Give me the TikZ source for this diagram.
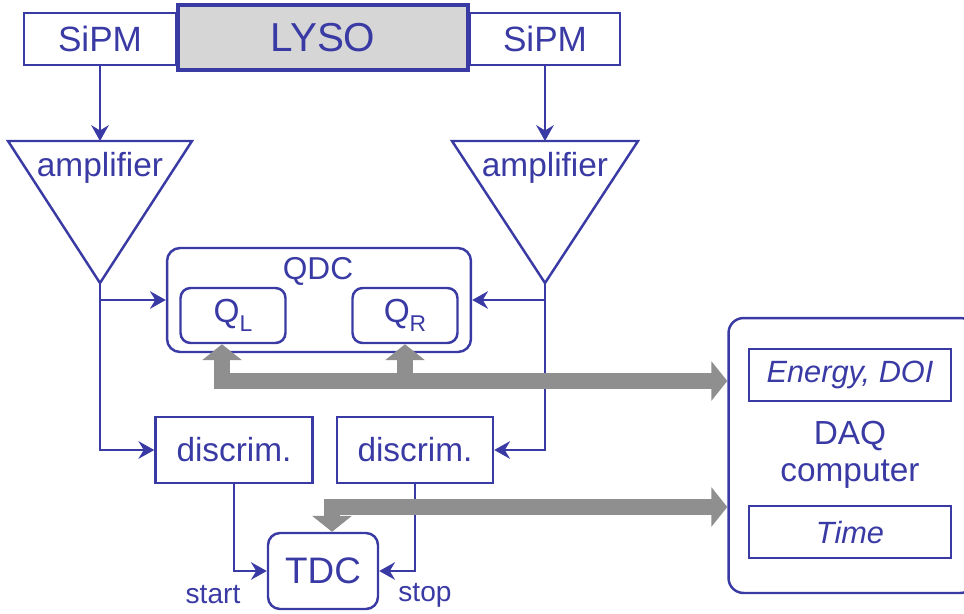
\documentclass[tikz,border=0pt]{standalone}
\usepackage{fontspec}
\setmainfont{Liberation Sans}
\usetikzlibrary{arrows.meta,positioning}
\definecolor{detblue}{RGB}{58,58,165}
\definecolor{busgray}{RGB}{143,143,143}
\definecolor{crystal}{RGB}{214,214,214}
\newcommand{\fsz}[1]{\fontsize{#1}{#1}\selectfont}
\tikzset{
  blk/.style={draw=detblue, line width=1.4pt, text=detblue, inner sep=0pt},
  rblk/.style={blk, rounded corners=0.24cm},
  txt/.style={text=detblue, inner sep=0pt},
  line/.style={draw=detblue, line width=1.4pt, line join=miter},
  sig/.style={line, -{Stealth[length=9pt,width=10pt,inset=3pt]}},
  bus/.style={draw=busgray, line width=9pt, line join=miter, -{Triangle[length=9pt,width=22pt]}},
  busboth/.style={bus, {Triangle[length=9pt,width=22pt]}-{Triangle[length=9pt,width=22pt]}}
}
\begin{document}
\begin{tikzpicture}[x=0.02cm,y=-0.02cm]
\useasboundingbox (0,0) rectangle (964,613);
% detector head
\node[blk, minimum width=3.04cm, minimum height=1.04cm, font=\fsz{20}] (sipmL) at (100,39) {SiPM};
\node[blk, minimum width=3.0cm, minimum height=1.04cm, font=\fsz{20}] (sipmR) at (545,39) {SiPM};
\node[blk, fill=crystal, line width=1.8pt, minimum width=5.8cm, minimum height=1.3cm, font=\fsz{23}] (lyso) at (323,37.5) {LYSO};

% amplifiers
\coordinate (ampLtop) at (100,141);
\coordinate (ampLtip) at (100,283);
\coordinate (ampRtop) at (545,141);
\coordinate (ampRtip) at (545,283);
\draw[line] (8,141) -- (192,141) -- (ampLtip) -- cycle;
\draw[line] (452,141) -- (638,141) -- (ampRtip) -- cycle;
\node[txt, font=\fsz{19}] (ampLtxt) at (100,168) {amplifier};
\node[txt, font=\fsz{19}] (ampRtxt) at (545,168) {amplifier};
\draw[sig] (sipmL.south) -- (ampLtop);
\draw[sig] (sipmR.south) -- (ampRtop);

% charge
\node[rblk, rounded corners=0.26cm, minimum width=6.08cm, minimum height=2.08cm] (qdc) at (319,300) {};
\node[txt, font=\fsz{18}] (qdctxt) at (318,271) {QDC};
\node[rblk, rounded corners=0.2cm, minimum width=2.1cm, minimum height=1.1cm, font=\fsz{19}] (ql) at (233,315.5) {Q\raisebox{-5pt}{\fsz{13}L}};
\node[rblk, rounded corners=0.2cm, minimum width=2.1cm, minimum height=1.1cm, font=\fsz{19}] (qr) at (405,315.5) {Q\raisebox{-5pt}{\fsz{13}R}};

% timing
\node[blk, minimum width=3.14cm, minimum height=1.32cm, font=\fsz{19}] (discL) at (234,450) {discrim.};
\node[blk, minimum width=3.12cm, minimum height=1.32cm, font=\fsz{19}] (discR) at (415,450) {discrim.};
\node[rblk, minimum width=2.2cm, minimum height=1.52cm, font=\fsz{21}] (tdc) at (323,571) {TDC};
\node[txt, font=\fsz{16}] (startlbl) at (213,595) {start};
\node[txt, font=\fsz{16}] (stoplbl) at (425,595) {stop};

\draw[sig] (ampLtip |- qdc.west) -- (qdc.west);
\draw[sig] (ampLtip) |- (discL.west);
\draw[sig] (ampRtip |- qdc.east) -- (qdc.east);
\draw[sig] (ampRtip) |- (discR.east);
\draw[sig] (discL.south) |- (tdc.west);
\draw[sig] (discR.south) |- (tdc.east);

% computer
\node[rblk, rounded corners=0.3cm, minimum width=4.94cm, minimum height=5.5cm] (daq) at (852,455.5) {};
\node[blk, minimum width=4.04cm, minimum height=1.04cm, font=\fsz{17.5}\itshape] (energy) at (850,375) {Energy, DOI};
\node[blk, minimum width=4.04cm, minimum height=1.04cm, font=\fsz{17.5}\itshape] (time) at (850,532) {Time};
\node[txt, font=\fsz{19}, align=center] (daqtxt) at (850,455) {DAQ\\[2pt]computer};

% data buses
\coordinate (busQ) at (222,381);
\coordinate (busT) at (332,507);
\draw[busboth] (busQ |- ql.south) -- (busQ) -- (busQ -| daq.west);
\draw[bus] (qr.south |- busQ) -- (qr.south);
\draw[busboth] (busT |- tdc.north) -- (busT) -- (busT -| daq.west);
\end{tikzpicture}
\end{document}
